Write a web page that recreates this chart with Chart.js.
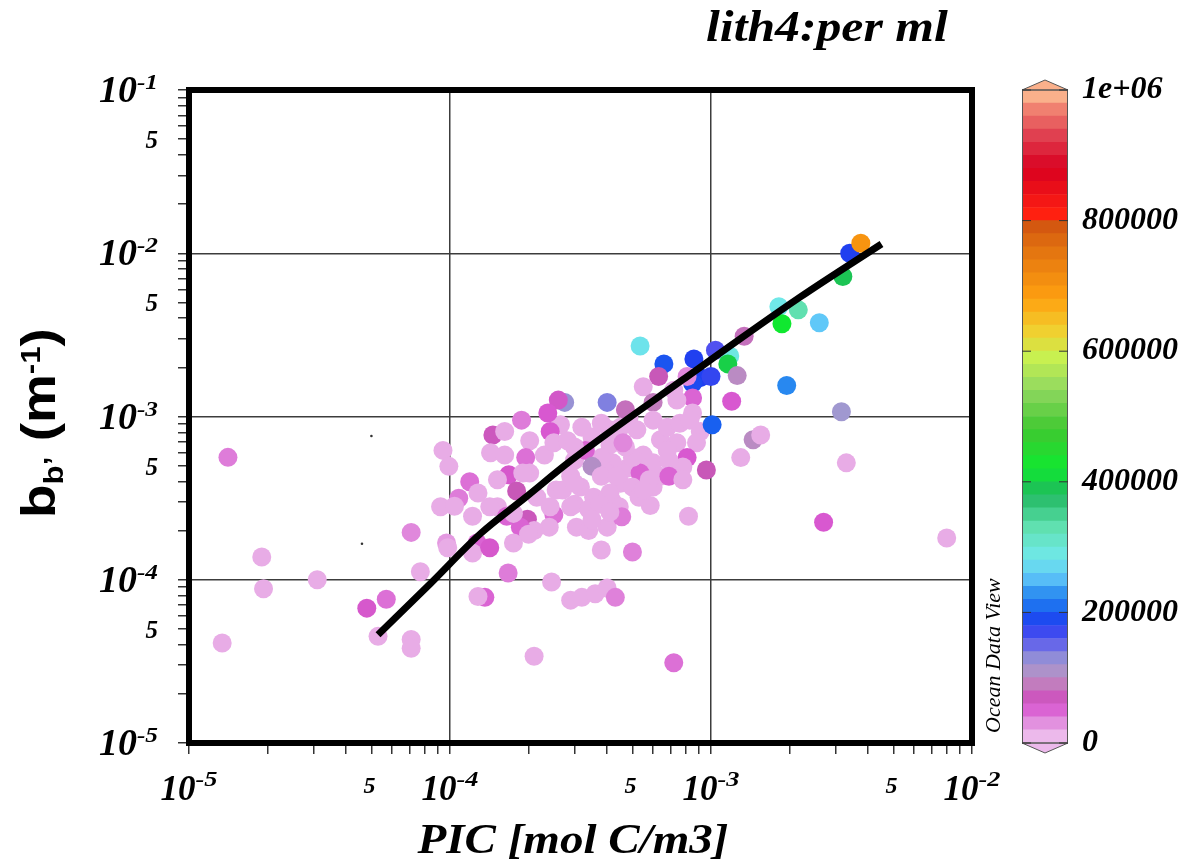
<!DOCTYPE html>
<html><head><meta charset="utf-8">
<script src="https://cdn.jsdelivr.net/npm/chart.js@4.4.1/dist/chart.umd.min.js"></script>
<style>
html,body{margin:0;padding:0;background:#fff;}
#wrap{position:relative;width:1184px;height:862px;overflow:hidden;}
#main{position:absolute;left:0;top:0;}
#cbar{position:absolute;left:1000px;top:0;}
</style></head><body>
<div id="wrap"><canvas id="main" width="1184" height="862"></canvas><canvas id="cbar" width="184" height="862"></canvas></div>
<script>
// ---------------- data ----------------
const picValues = [
1.41e-5,1.9e-5,1.93e-5,3.1e-5,1.34e-5,4.8e-5,5.7e-5,5.3e-5,7.1e-5,7.1e-5,7.1e-5,7.7e-5,9.4e-5,9.9e-5,1.19e-4,1.08e-4,9.2e-5,1.04e-4,1.22e-4,9.7e-5,9.8e-5,1.27e-4,1.22e-4,1.28e-4,1.36e-4,1.28e-4,
2.65e-4,3.0e-4,4.1e-4,4.75e-4,5.5e-4,6.4e-4,9.1e-4,4.2e-4,5.85e-4,2.3e-4,2.55e-4,4.85e-4,
5.35e-4,6.6e-4,8.6e-4,1.04e-3,9.1e-4,1.0e-3,8.5e-4,6.3e-4,8.1e-4,5.5e-4,7.2e-4,4.0e-4,2.75e-4,2.6e-4,2.37e-4,4.7e-4,6.0e-4,8.5e-4,7.4e-4,8.5e-4,1.01e-3,
1.88e-4,1.46e-4,1.62e-4,2.02e-4,2.42e-4,1.43e-4,1.62e-4,1.95e-4,2.5e-4,2.82e-4,3.2e-4,3.5e-4,3.8e-4,4.5e-4,5.2e-4,6.0e-4,6.8e-4,7.6e-4,8.3e-4,8.8e-4,7.4e-4,6.8e-4,8.1e-4,7.8e-4,9.6e-4,
6.4e-4,6.0e-4,5.35e-4,5.0e-4,4.7e-4,4.2e-4,3.8e-4,3.3e-4,3.5e-4,4.0e-4,4.5e-4,5.0e-4,4.1e-4,3.55e-4,3.16e-4,2.9e-4,2.7e-4,3.0e-4,3.4e-4,3.75e-4,4.45e-4,5.3e-4,6.0e-4,8.2e-4,
1.68e-4,2.02e-4,1.52e-4,1.8e-4,2.15e-4,1.65e-4,1.98e-4,2.5e-4,2.4e-4,2.1e-4,1.86e-4,1.75e-4,2.0e-4,1.42e-4,2.45e-4,2.9e-4,3.2e-4,3.6e-4,4.0e-4,4.3e-4,3.8e-4,5.0e-4,3.05e-4,3.4e-4,4.0e-4,4.55e-4,1.67e-4,2.1e-4,7.2e-4,
4.1e-4,4.6e-4,6.9e-4,6.9e-4,5.8e-4,3.0e-4,3.8e-4,4.35e-4,1.9e-4,1.52e-4,2.42e-4,1.42e-4,1.75e-4,3.0e-4,2.9e-4,3.5e-4,4.1e-4,5.5e-4,7.8e-4,
3.4e-3,3.75e-3,3.2e-3,1.82e-3,2.16e-3,1.87e-3,2.6e-3,1.34e-3,1.18e-3,1.16e-3,1.26e-3,1.95e-3,1.2e-3,3.16e-3,1.45e-3,1.55e-3,1.3e-3,3.3e-3,2.7e-3,8.0e-3
];
const bbValues = [
5.62e-4,1.38e-4,8.8e-5,1.0e-4,4.1e-5,6.7e-5,7.6e-5,4.5e-5,4.3e-5,3.8e-5,1.95e-4,1.12e-4,6.2e-4,4.95e-4,3.98e-4,3.16e-4,2.8e-4,2.82e-4,2.45e-4,1.68e-4,1.57e-4,1.68e-4,1.46e-4,3.4e-4,7.8e-5,7.9e-5,
8.9e-4,5.4e-4,6.7e-4,4.8e-4,5.8e-4,7.2e-4,8.1e-4,3.0e-4,2.85e-4,5.8e-4,3.55e-4,9.8e-4,
2.7e-3,2.1e-3,2.25e-3,2.55e-3,1.73e-3,1.76e-3,1.6e-3,1.76e-3,1.76e-3,1.52e-3,1.45e-3,1.22e-3,1.22e-3,1.26e-3,1.05e-3,1.1e-3,1.22e-3,1.3e-3,1.26e-3,1.05e-3,8.9e-4,
9.5e-4,7.7e-4,8.1e-4,7.1e-4,8.1e-4,6.0e-4,5.8e-4,5.6e-4,6.9e-4,7.1e-4,8.6e-4,7.5e-4,9.1e-4,8.6e-4,8.3e-4,9.5e-4,8.6e-4,9.1e-4,9.5e-4,6.9e-4,6.9e-4,6.2e-4,5.6e-4,4.9e-4,4.7e-4,
4.3e-4,5.2e-4,4.5e-4,5.6e-4,6.5e-4,5.2e-4,5.6e-4,6.2e-4,4.95e-4,4.5e-4,3.9e-4,3.7e-4,3.4e-4,3.2e-4,3.7e-4,4.3e-4,3.55e-4,2.9e-4,2.7e-4,2.9e-4,2.8e-4,3.2e-4,3.7e-4,2.45e-4,
4.4e-4,4.5e-4,2.8e-4,3.5e-4,3.2e-4,2.45e-4,2.35e-4,2.5e-4,2.1e-4,2.0e-4,2.1e-4,1.68e-4,1.9e-4,1.57e-4,9.7e-5,7.5e-5,7.8e-5,8.2e-5,8.9e-5,7.8e-5,1.52e-4,1.48e-4,2.1e-4,2.0e-4,2.1e-4,2.43e-4,1.1e-4,3.4e-5,3.1e-5,
8.3e-4,6.9e-4,5.4e-4,4.3e-4,4.1e-4,6.5e-4,4.3e-4,4.3e-4,4.5e-4,4.1e-4,2.8e-4,2.8e-4,2.55e-4,3.9e-4,2.8e-4,2.33e-4,2.6e-4,3.55e-4,4.1e-4,
1.0e-2,1.15e-2,7.2e-3,4.7e-3,4.5e-3,3.7e-3,3.75e-3,3.1e-3,2.35e-3,2.1e-3,1.78e-3,1.55e-3,1.24e-3,1.07e-3,7.2e-4,7.7e-4,5.6e-4,5.2e-4,2.25e-4,1.8e-4
];
const lithValues = [
40000,15000,15000,15000,15000,58000,45000,15000,15000,15000,35000,15000,15000,15000,45000,40000,15000,15000,15000,25000,15000,50000,15000,15000,50000,15000,
15000,15000,15000,15000,15000,15000,15000,15000,15000,15000,15000,15000,
280000,195000,185000,160000,185000,175000,190000,75000,35000,15000,15000,140000,125000,62000,55000,85000,90000,50000,15000,15000,200000,
40000,70000,15000,15000,55000,15000,15000,45000,15000,15000,15000,15000,15000,15000,15000,15000,15000,15000,15000,15000,15000,15000,55000,15000,75000,
15000,15000,50000,15000,15000,15000,15000,50000,105000,15000,15000,15000,15000,15000,15000,15000,15000,15000,15000,15000,15000,15000,15000,15000,
58000,15000,15000,75000,15000,50000,72000,45000,15000,15000,50000,15000,15000,58000,15000,15000,15000,15000,15000,38000,15000,38000,15000,15000,15000,40000,40000,15000,45000,
15000,35000,15000,50000,15000,15000,15000,15000,15000,15000,15000,15000,15000,15000,15000,15000,15000,15000,15000,
185000,700000,390000,285000,330000,420000,255000,85000,290000,400000,100000,225000,55000,120000,100000,15000,15000,15000,55000,15000
];
// fitted curve
const fitPic = [5.3e-5, 8.4e-5, 1.31e-4, 1.95e-4, 2.9e-4, 7.8e-4, 2.2e-3, 4.5e-3];
const fitBb  = [4.6e-5, 9.45e-5, 1.92e-4, 3.2e-4, 5.35e-4, 1.68e-3, 5.4e-3, 1.14e-2];
// two tiny specks
const speckPic = [5.0e-5, 4.6e-5];
const speckBb  = [7.6e-4, 1.66e-4];

// axes
const xMin = 1e-5, xMax = 1e-2, yMin = 1e-5, yMax = 1e-1;
const xDecadeTicks = [1e-5, 1e-4, 1e-3, 1e-2];
const xDecadeExps  = ['-5', '-4', '-3', '-2'];
const xFiveTicks   = [5e-5, 5e-4, 5e-3];
const yDecadeTicks = [1e-5, 1e-4, 1e-3, 1e-2, 1e-1];
const yDecadeExps  = ['-5', '-4', '-3', '-2', '-1'];
const yFiveTicks   = [5e-5, 5e-4, 5e-3, 5e-2];

// colour scale
const cbMin = 0, cbMax = 1000000;
const colorbarTicks  = [0, 200000, 400000, 600000, 800000, 1000000];
const colorbarLabels = ['0', '200000', '400000', '600000', '800000', '1e+06'];
const colorStopValues = [0,15000,35000,55000,75000,95000,120000,140000,160000,185000,200000,225000,255000,285000,330000,380000,420000,480000,540000,590000,630000,680000,760000,800000,810000,880000,930000,970000,1000000];
const colorStopColors = ['#f4d4f4','#e8ace6','#e088dc','#d858d0','#c858b8','#c088c0','#a098d0','#8080e0','#5050f0','#2040f0','#1860f0','#2888f0','#60c8f8','#70e8e8','#60e0b0','#20b860','#10e830','#40c830','#90d860','#c8f050','#f0d030','#ffa010','#e07010','#d05010','#ff2010','#d80020','#e04050','#f08070','#ffc898'];
const bandStep = 20000;

// ---------------- helpers ----------------
function hexRgb(h){ return [parseInt(h.slice(1,3),16), parseInt(h.slice(3,5),16), parseInt(h.slice(5,7),16)]; }
function lithColor(v){
  if (v <= colorStopValues[0]) return colorStopColors[0];
  for (let i = 1; i < colorStopValues.length; i++) {
    if (v <= colorStopValues[i]) {
      const t = (v - colorStopValues[i-1]) / (colorStopValues[i] - colorStopValues[i-1]);
      const a = hexRgb(colorStopColors[i-1]), b = hexRgb(colorStopColors[i]);
      return `rgb(${Math.round(a[0]+(b[0]-a[0])*t)},${Math.round(a[1]+(b[1]-a[1])*t)},${Math.round(a[2]+(b[2]-a[2])*t)})`;
    }
  }
  return colorStopColors[colorStopColors.length-1];
}
const isDecade = v => v > 0 && Math.abs(Math.log10(v) - Math.round(Math.log10(v))) < 1e-9;
function logTicks(lo, hi){ const t=[]; for (let e=lo; e<hi; e++) for (let m=1; m<10; m++) t.push(m*Math.pow(10,e)); t.push(Math.pow(10,hi)); return t; }
const SERIF = '"Liberation Serif","Times New Roman",serif';
const SANS = '"Liberation Sans",Arial,sans-serif';
const fBI = s => `italic bold ${s}px ${SERIF}`;
function textW(ctx, font, t, sx){ ctx.font = font; return ctx.measureText(t).width * (sx || 1); }
function drawText(ctx, font, t, x, y, sx){ ctx.save(); ctx.font = font; ctx.translate(x, y); ctx.scale(sx || 1, 1); ctx.textAlign = 'left'; ctx.fillText(t, 0, 0); ctx.restore(); }

// ---------------- main chart ----------------
const decorPlugin = {
  id: 'decor',
  afterDraw(chart){
    const {ctx, chartArea:a} = chart; const xs = chart.scales.x, ys = chart.scales.y;
    ctx.save();
    ctx.strokeStyle = '#000'; ctx.lineWidth = 6;
    ctx.strokeRect(a.left, a.top, a.right - a.left, a.bottom - a.top);
    ctx.fillStyle = '#000'; ctx.textBaseline = 'alphabetic';
    // y decade labels
    yDecadeTicks.forEach((v,i) => {
      const py = ys.getPixelForValue(v);
      const w1 = textW(ctx, fBI(38), '10'), w2 = textW(ctx, fBI(22), yDecadeExps[i], 1.15);
      const right = 158;
      drawText(ctx, fBI(38), '10', right - w2 - w1, py + 12);
      drawText(ctx, fBI(22), yDecadeExps[i], right - w2, py - 1, 1.15);
    });
    yFiveTicks.forEach(v => {
      const py = ys.getPixelForValue(v);
      const w = textW(ctx, fBI(25), '5');
      drawText(ctx, fBI(25), '5', 158 - w, py + 9);
    });
    // x decade labels
    xDecadeTicks.forEach((v,i) => {
      const px = xs.getPixelForValue(v);
      const w1 = textW(ctx, fBI(35), '10'), w2 = textW(ctx, fBI(22), xDecadeExps[i], 1.2);
      const left = px - (w1 + w2)/2;
      drawText(ctx, fBI(35), '10', left, 800);
      drawText(ctx, fBI(22), xDecadeExps[i], left + w1, 786, 1.2);
    });
    xFiveTicks.forEach(v => {
      const px = xs.getPixelForValue(v);
      const w = textW(ctx, fBI(24), '5');
      drawText(ctx, fBI(24), '5', px - 2 - w/2, 793);
    });
    // x title
    const tw = textW(ctx, fBI(42), 'PIC [mol C/m3]', 1.12);
    drawText(ctx, fBI(42), 'PIC [mol C/m3]', 573 - tw/2, 853, 1.12);
    // main title
    drawText(ctx, fBI(44), 'lith4:per ml', 706, 41, 1.13);
    // y title (rotated)
    ctx.save(); ctx.translate(55, 518); ctx.rotate(-Math.PI/2); ctx.scale(1.12, 1);
    ctx.textAlign = 'left';
    let cx = 0;
    const big = `bold 49px ${SANS}`, small = `bold 28px ${SANS}`;
    ctx.font = big; ctx.fillText('b', cx, 0); cx += ctx.measureText('b').width;
    ctx.font = small; ctx.fillText('b\u2019', cx, 8); cx += ctx.measureText('b\u2019').width;
    ctx.font = big; ctx.fillText(' (m', cx, 0); cx += ctx.measureText(' (m').width;
    ctx.font = small; ctx.fillText('-1', cx, -15); cx += ctx.measureText('-1').width;
    ctx.font = big; ctx.fillText(')', cx, 0);
    ctx.restore();
    // Ocean Data View
    ctx.save(); ctx.translate(1000, 733); ctx.rotate(-Math.PI/2);
    ctx.font = `italic 22px ${SERIF}`; ctx.textAlign = 'left'; ctx.fillText('Ocean Data View', 0, 0);
    ctx.restore();
    ctx.restore();
  }
};

const gridOpts = {
  color: c => (c.tick && isDecade(c.tick.value)) ? '#3c3c3c' : 'rgba(0,0,0,0)',
  lineWidth: 1.5, drawTicks: true, tickLength: 11, tickColor: '#333', tickWidth: 1.5
};

new Chart(document.getElementById('main'), {
  type: 'scatter',
  data: { datasets: [
    { label: 'fit', data: fitPic.map((x,i) => ({x, y: fitBb[i]})), showLine: true, borderColor: '#000', borderWidth: 7,
      pointRadius: 0, cubicInterpolationMode: 'monotone', borderCapStyle: 'butt', fill: false, order: 0 },
    { label: 'lith4', data: picValues.map((x,i) => ({x, y: bbValues[i]})), pointBackgroundColor: lithValues.map(lithColor),
      pointBorderWidth: 0, pointRadius: 9.5, pointHoverRadius: 9.5, showLine: false, order: 1 },
    { label: 'specks', data: speckPic.map((x,i) => ({x, y: speckBb[i]})), pointBackgroundColor: '#333', pointBorderWidth: 0,
      pointRadius: 1.3, showLine: false, order: 2 }
  ]},
  options: {
    responsive: false, animation: false, devicePixelRatio: 1, events: [],
    layout: { padding: { left: 0, top: 90, right: 212, bottom: 0 } },
    plugins: { legend: { display: false }, tooltip: { enabled: false }, title: { display: false } },
    scales: {
      x: { type: 'logarithmic', min: xMin, max: xMax, position: 'bottom',
        afterBuildTicks: s => { s.ticks = logTicks(-5, -2).map(v => ({value: v, major: isDecade(v)})); },
        afterFit: s => { s.height = 862 - 743; },
        ticks: { display: false }, grid: gridOpts, border: { display: false } },
      y: { type: 'logarithmic', min: yMin, max: yMax, position: 'left',
        afterBuildTicks: s => { s.ticks = logTicks(-5, -1).map(v => ({value: v, major: isDecade(v)})); },
        afterFit: s => { s.width = 189; },
        ticks: { display: false }, grid: gridOpts, border: { display: false } }
    }
  },
  plugins: [decorPlugin]
});

// ---------------- colour bar ----------------
const bands = [];
for (let v = cbMin; v < cbMax; v += bandStep) bands.push({lo: v, hi: v + bandStep, color: lithColor(v + bandStep/2)});

const cbarPlugin = {
  id: 'cbarDecor',
  afterDraw(chart){
    const {ctx, chartArea:a} = chart; const ys = chart.scales.y;
    const mid = (a.left + a.right)/2;
    ctx.save();
    ctx.strokeStyle = '#555'; ctx.lineWidth = 1;
    ctx.fillStyle = bands[bands.length-1].color;
    ctx.beginPath(); ctx.moveTo(a.left, a.top); ctx.lineTo(mid, a.top - 10); ctx.lineTo(a.right, a.top); ctx.closePath(); ctx.fill(); ctx.stroke();
    ctx.fillStyle = bands[0].color;
    ctx.beginPath(); ctx.moveTo(a.left, a.bottom); ctx.lineTo(mid, a.bottom + 10); ctx.lineTo(a.right, a.bottom); ctx.closePath(); ctx.fill(); ctx.stroke();
    ctx.strokeRect(a.left + 0.5, a.top, a.right - a.left - 1, a.bottom - a.top);
    ctx.strokeStyle = '#333';
    colorbarTicks.forEach(v => {
      const py = ys.getPixelForValue(v);
      ctx.beginPath(); ctx.moveTo(a.left, py); ctx.lineTo(a.left + 9, py); ctx.moveTo(a.right - 9, py); ctx.lineTo(a.right, py); ctx.stroke();
    });
    ctx.restore();
  }
};

new Chart(document.getElementById('cbar'), {
  type: 'bar',
  data: { labels: ['lith4'], datasets: bands.map(b => ({ data: [[b.lo, b.hi]], backgroundColor: b.color, borderWidth: 0,
    barPercentage: 1, categoryPercentage: 1, grouped: false })) },
  options: {
    responsive: false, animation: false, devicePixelRatio: 1, events: [],
    layout: { padding: { left: 22, top: 90, right: 0, bottom: 119 } },
    plugins: { legend: { display: false }, tooltip: { enabled: false } },
    scales: {
      x: { display: false },
      y: { position: 'right', min: cbMin, max: cbMax,
        afterBuildTicks: s => { s.ticks = colorbarTicks.map(v => ({value: v})); },
        afterFit: s => { s.width = 184 - 68; },
        grid: { drawOnChartArea: false, drawTicks: false }, border: { display: false },
        ticks: { padding: 14, color: '#000', font: { family: SERIF, style: 'italic', weight: 'bold', size: 32 },
          callback: (v, i) => colorbarLabels[i] } }
    }
  },
  plugins: [cbarPlugin]
});
</script></body></html>
